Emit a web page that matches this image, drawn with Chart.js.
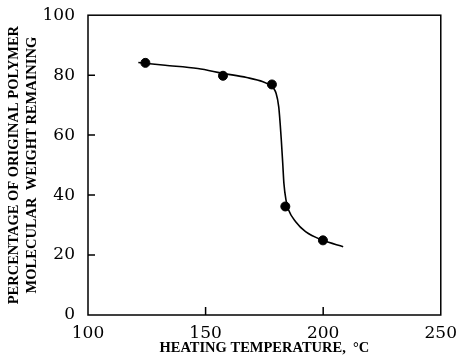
<!DOCTYPE html>
<html>
<head>
<meta charset="utf-8">
<script src="https://cdn.jsdelivr.net/npm/chart.js@4"></script>
<style>
  html, body { margin: 0; padding: 0; background: #fff; }
  canvas { display: block; }
</style>
</head>
<body>
<canvas id="myChart" width="457" height="357"></canvas>
<script>
// measured points
const pointTemps = [124.4, 157.4, 178.2, 183.9, 199.9];
const pointValues = [84.1, 79.8, 76.9, 36.2, 24.9];

// hand drawn curve
const curveTemps = [121.4, 132.8, 146.7, 157.4, 167.5, 174.4, 177.2, 180, 181.1, 181.7, 182.2, 182.8, 183.3, 184.2, 185.3, 188.3, 192.5, 199.9, 208.5];
const curveValues = [84.2, 83.3, 82.2, 80.6, 79.2, 77.8, 76.7, 73.9, 69.4, 63.9, 58.3, 50.6, 43.9, 38.3, 35, 31.1, 27.8, 24.9, 22.8];

const xTicks = [100, 150, 200, 250];
const yTicks = [0, 20, 40, 60, 80, 100];

const tickFont = { family: 'DejaVu Serif', size: 17 };
const titleFont = { family: 'Liberation Serif', size: 14.5, weight: 'bold' };

// inward ticks + box frame
const frame = {
    id: 'frame',
    afterDraw(chart) {
        const c = chart.ctx, a = chart.chartArea;
        const xs = chart.scales.x, ys = chart.scales.y;
        c.save();
        c.strokeStyle = '#000';
        c.lineWidth = 1.5;
        c.strokeRect(a.left, a.top, a.right - a.left, a.bottom - a.top);
        c.beginPath();
        yTicks.slice(1, -1).forEach(v => {
            const y = ys.getPixelForValue(v);
            c.moveTo(a.left, y);
            c.lineTo(a.left + 7, y);
        });
        xTicks.slice(1, -1).forEach(v => {
            const x = xs.getPixelForValue(v);
            c.moveTo(x, a.bottom);
            c.lineTo(x, a.bottom - 8);
        });
        c.stroke();
        c.restore();
    }
};

new Chart(document.getElementById('myChart'), {
    type: 'scatter',
    data: {
        datasets: [{
            type: 'line',
            data: curveTemps.map((t, i) => ({ x: t, y: curveValues[i] })),
            borderColor: '#000',
            borderWidth: 1.6,
            pointRadius: 0,
            cubicInterpolationMode: 'monotone',
            fill: false
        }, {
            data: pointTemps.map((t, i) => ({ x: t, y: pointValues[i] })),
            backgroundColor: '#000',
            borderColor: '#000',
            pointRadius: 4.5
        }]
    },
    options: {
        responsive: false,
        animation: false,
        layout: { padding: { top: 15, right: 8 } },
        plugins: { legend: { display: false }, tooltip: { enabled: false } },
        scales: {
            x: {
                type: 'linear',
                min: 100,
                max: 250,
                afterBuildTicks: s => { s.ticks = xTicks.map(v => ({ value: v })); },
                afterFit: s => { s.height = 42; },
                grid: { display: false },
                border: { display: false },
                ticks: { color: '#000', font: tickFont, padding: 0 },
                title: {
                    display: true,
                    text: 'HEATING TEMPERATURE,  °C',
                    color: '#000',
                    font: titleFont,
                    padding: { top: 0, bottom: 0 }
                }
            },
            y: {
                min: 0,
                max: 100,
                afterBuildTicks: s => { s.ticks = yTicks.map(v => ({ value: v })); },
                afterFit: s => { s.width = 88; },
                grid: { display: false },
                border: { display: false },
                ticks: { color: '#000', font: tickFont, padding: 5 },
                title: {
                    display: true,
                    text: ['PERCENTAGE OF ORIGINAL POLYMER', 'MOLECULAR  WEIGHT REMAINING'],
                    color: '#000',
                    font: titleFont,
                    padding: { top: 6, bottom: 0 }
                }
            }
        }
    },
    plugins: [frame]
});
</script>
</body>
</html>
